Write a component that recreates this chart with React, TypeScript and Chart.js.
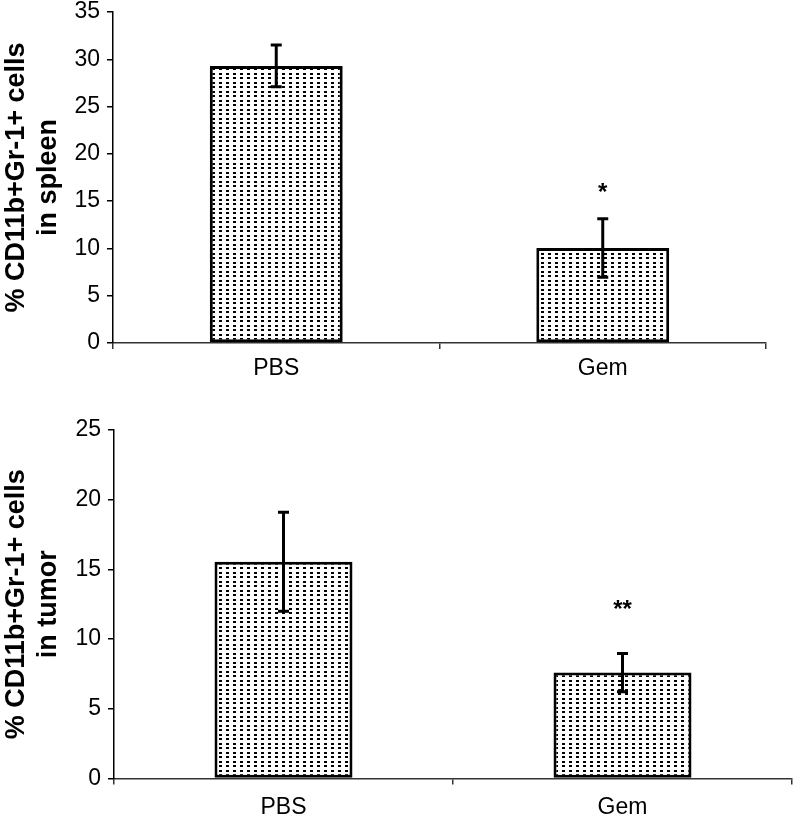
import React, { useEffect, useRef } from "react";
import { Chart, registerables } from "chart.js";

Chart.register(...registerables);

// ---- data ----
const categories = ["PBS", "Gem"];

const spleenValues = [29.3, 10.05];
const spleenErrors = [2.2, 3.1];
const spleenMarks = ["", "*"];
const spleenMarkValues = [0, 16.5];
const spleenTitle = ["% CD11b+Gr-1+ cells", "in spleen"];
const spleenMax = 35;

const tumorValues = [15.55, 7.6];
const tumorErrors = [3.55, 1.37];
const tumorMarks = ["", "**"];
const tumorMarkValues = [0, 12.5];
const tumorTitle = ["% CD11b+Gr-1+ cells", "in tumor"];
const tumorMax = 25;

const tickStep = 5;

const FONT = '"Liberation Sans", Arial, Helvetica, sans-serif';

function makePattern(): CanvasPattern | string {
  const c = document.createElement("canvas");
  c.width = 7;
  c.height = 9;
  const g = c.getContext("2d");
  if (!g) return "#ccc";
  g.fillStyle = "#fff";
  g.fillRect(0, 0, 7, 9);
  g.fillStyle = "#000";
  g.fillRect(2, 1, 3, 2);
  g.fillRect(2, 5, 3, 2);
  const p = g.createPattern(c, "repeat");
  return p || "#ccc";
}

type PanelProps = {
  values: number[];
  errors: number[];
  marks: string[];
  markValues: number[];
  title: string[];
  max: number;
  width: number;
  height: number;
  top: number;
  padTop: number;
  padRight: number;
  axisWidth: number;
  axisHeight: number;
  labelPad: number;
};

function Panel(props: PanelProps) {
  const ref = useRef<HTMLCanvasElement | null>(null);
  useEffect(() => {
    const canvas = ref.current;
    if (!canvas) return;
    const { values, errors, marks, markValues } = props;

    const errorPlugin = {
      id: "errorBarsAndMarks",
      afterDatasetsDraw(chart: any) {
        const ctx = chart.ctx;
        const y = chart.scales.y;
        const meta = chart.getDatasetMeta(0);
        ctx.save();
        ctx.strokeStyle = "#000";
        ctx.fillStyle = "#000";
        meta.data.forEach((bar: any, i: number) => {
          const v = values[i];
          const e = errors[i];
          const yHi = y.getPixelForValue(v + e);
          const yLo = y.getPixelForValue(v - e);
          ctx.lineWidth = 3;
          ctx.beginPath();
          ctx.moveTo(bar.x, yHi);
          ctx.lineTo(bar.x, yLo);
          ctx.stroke();
          ctx.beginPath();
          ctx.moveTo(bar.x - 5.5, yHi);
          ctx.lineTo(bar.x + 5.5, yHi);
          ctx.moveTo(bar.x - 5.5, yLo);
          ctx.lineTo(bar.x + 5.5, yLo);
          ctx.stroke();
          if (marks[i]) {
            ctx.font = `bold 24px ${FONT}`;
            ctx.textAlign = "center";
            ctx.textBaseline = "alphabetic";
            ctx.fillText(marks[i], bar.x, y.getPixelForValue(markValues[i]) + 13);
          }
        });
        ctx.restore();
      },
    };

    const chart = new Chart(canvas, {
      type: "bar",
      data: {
        labels: categories,
        datasets: [
          {
            data: values,
            backgroundColor: makePattern() as any,
            borderColor: "#000",
            borderWidth: 3,
            borderSkipped: false,
            categoryPercentage: 1,
            barPercentage: 0.407,
          },
        ],
      },
      options: {
        responsive: false,
        animation: false,
        devicePixelRatio: 1,
        layout: {
          padding: { top: props.padTop, right: props.padRight, left: 0, bottom: 0 },
        },
        plugins: {
          legend: { display: false },
          tooltip: { enabled: false },
        },
        scales: {
          x: {
            grid: {
              offset: true,
              drawOnChartArea: false,
              drawTicks: true,
              tickLength: 6,
              color: "#333",
              lineWidth: 1.5,
            },
            border: { display: true, color: "#333", width: 1.5 },
            ticks: {
              color: "#000",
              font: { family: FONT, size: 23 },
              padding: props.labelPad,
            },
            afterFit: (s: any) => {
              s.height = props.axisHeight;
              s.paddingLeft = 0;
              s.paddingRight = 0;
            },
          },
          y: {
            min: 0,
            max: props.max,
            ticks: {
              stepSize: tickStep,
              color: "#000",
              font: { family: FONT, size: 23 },
              padding: 7,
            },
            grid: {
              drawOnChartArea: false,
              drawTicks: true,
              tickLength: 6,
              color: "#000",
              lineWidth: 1.5,
            },
            border: { display: true, color: "#000", width: 1.5 },
            title: {
              display: true,
              text: props.title,
              color: "#000",
              font: { family: FONT, size: 27, weight: "bold", lineHeight: 1.2 },
              padding: 0,
            },
            afterFit: (s: any) => {
              s.width = props.axisWidth;
              s.paddingTop = 0;
              s.paddingBottom = 0;
            },
          },
        },
      },
      plugins: [errorPlugin],
    } as any);
    return () => chart.destroy();
  }, []);

  return (
    <canvas
      ref={ref}
      width={props.width}
      height={props.height}
      style={{ position: "absolute", left: 0, top: props.top, display: "block" }}
    />
  );
}

export default function App() {
  return (
    <div
      style={{
        position: "absolute",
        left: 0,
        top: 0,
        width: 793,
        height: 822,
        background: "#fff",
        overflow: "hidden",
      }}
    >
      <Panel
        values={spleenValues}
        errors={spleenErrors}
        marks={spleenMarks}
        markValues={spleenMarkValues}
        title={spleenTitle}
        max={spleenMax}
        width={793}
        height={400}
        top={0}
        padTop={12}
        padRight={27}
        axisWidth={113}
        axisHeight={57}
        labelPad={6}
      />
      <Panel
        values={tumorValues}
        errors={tumorErrors}
        marks={tumorMarks}
        markValues={tumorMarkValues}
        title={tumorTitle}
        max={tumorMax}
        width={793}
        height={422}
        top={400}
        padTop={30}
        padRight={1}
        axisWidth={114}
        axisHeight={43.5}
        labelPad={9}
      />
    </div>
  );
}
